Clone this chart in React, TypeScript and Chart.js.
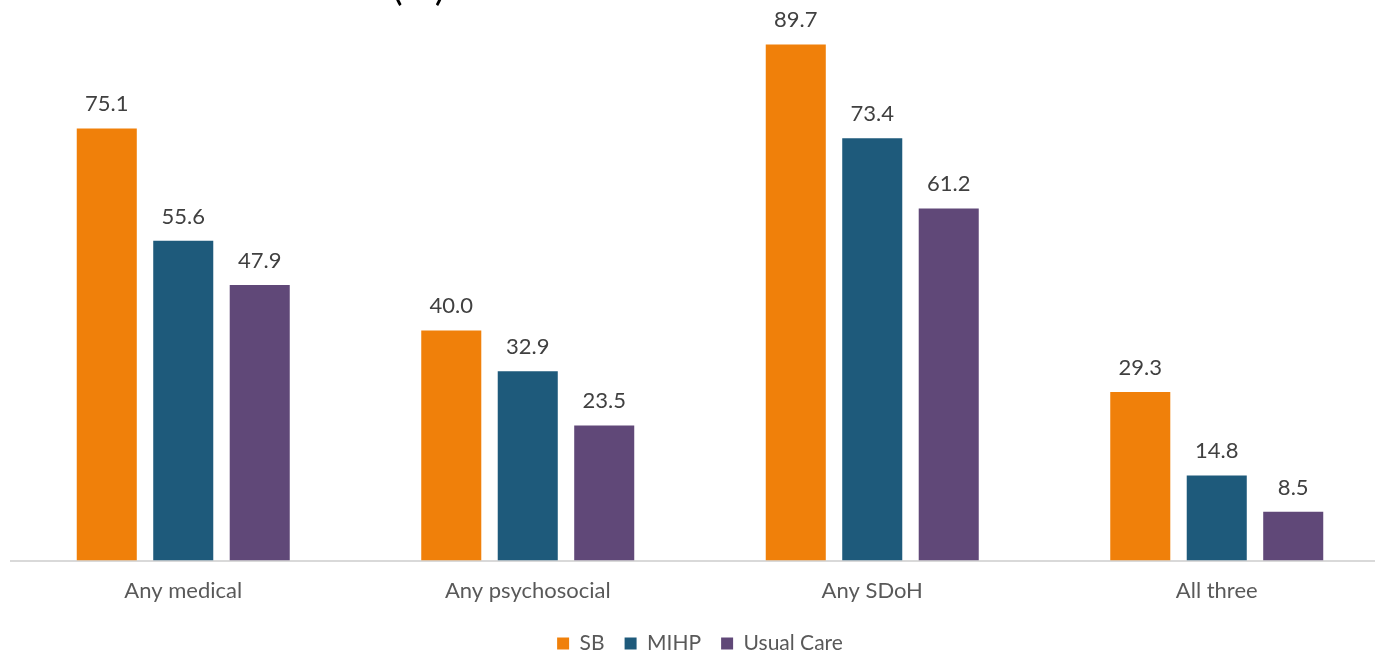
import React, { useEffect, useRef } from "react";
import { Chart, registerables } from "chart.js";

Chart.register(...registerables);

const categories = ["Any medical", "Any psychosocial", "Any SDoH", "All three"];
const sbValues = [75.1, 40.0, 89.7, 29.3];
const mihpValues = [55.6, 32.9, 73.4, 14.8];
const usualCareValues = [47.9, 23.5, 61.2, 8.5];
const seriesNames = ["SB", "MIHP", "Usual Care"];
const seriesColors = ["#F0800A", "#1E5A7B", "#604878"];

const FONT = "Lato, 'Open Sans', sans-serif";

const dataLabelPlugin = {
  id: "dataLabels",
  afterDatasetsDraw(chart: any) {
    const ctx = chart.ctx;
    ctx.save();
    ctx.font = `22px ${FONT}`;
    ctx.fillStyle = "#404040";
    ctx.textAlign = "center";
    ctx.textBaseline = "alphabetic";
    chart.data.datasets.forEach((ds: any, i: number) => {
      const meta = chart.getDatasetMeta(i);
      meta.data.forEach((bar: any, j: number) => {
        ctx.fillText(Number(ds.data[j]).toFixed(1), bar.x, bar.y - 17);
      });
    });
    ctx.restore();
  },
};

export default function App() {
  const canvasRef = useRef<HTMLCanvasElement | null>(null);

  useEffect(() => {
    if (!canvasRef.current) return;
    const allValues = [sbValues, mihpValues, usualCareValues];
    const chart = new Chart(canvasRef.current, {
      type: "bar",
      data: {
        labels: categories,
        datasets: seriesNames.map((name, i) => ({
          label: name,
          data: allValues[i],
          backgroundColor: seriesColors[i],
          borderWidth: 0,
          barPercentage: 0.785,
          categoryPercentage: 0.666,
        })),
      },
      options: {
        responsive: false,
        maintainAspectRatio: false,
        animation: false,
        layout: { padding: { left: 11, right: 11, top: 14, bottom: 0 } },
        scales: {
          x: {
            grid: { display: false, drawTicks: false },
            border: { display: true, color: "#D9D9D9", width: 2 },
            ticks: {
              color: "#595959",
              font: { family: FONT, size: 22 },
              padding: 17,
            },
            afterFit: (scale: any) => {
              scale.height -= 8;
            },
          },
          y: {
            display: false,
            min: 0,
            max: 95,
          },
        },
        plugins: {
          legend: {
            position: "bottom",
            labels: {
              boxWidth: 12,
              boxHeight: 12,
              padding: 20,
              color: "#595959",
              font: { family: FONT, size: 21 },
            },
          },
          tooltip: { enabled: false },
          title: { display: false },
        },
      },
      plugins: [dataLabelPlugin],
    });
    return () => chart.destroy();
  }, []);

  return (
    <div
      style={{
        position: "fixed",
        left: 0,
        top: 0,
        width: 1375,
        height: 653,
        overflow: "hidden",
        background: "#ffffff",
      }}
    >
      <canvas ref={canvasRef} width={1400} height={664} style={{ display: "block" }} />
      <div
        style={{
          position: "absolute",
          left: 392,
          top: -35,
          fontFamily: FONT,
          fontSize: 40,
          lineHeight: 1,
          color: "#000000",
          whiteSpace: "nowrap",
        }}
      >
        (%)
      </div>
    </div>
  );
}
